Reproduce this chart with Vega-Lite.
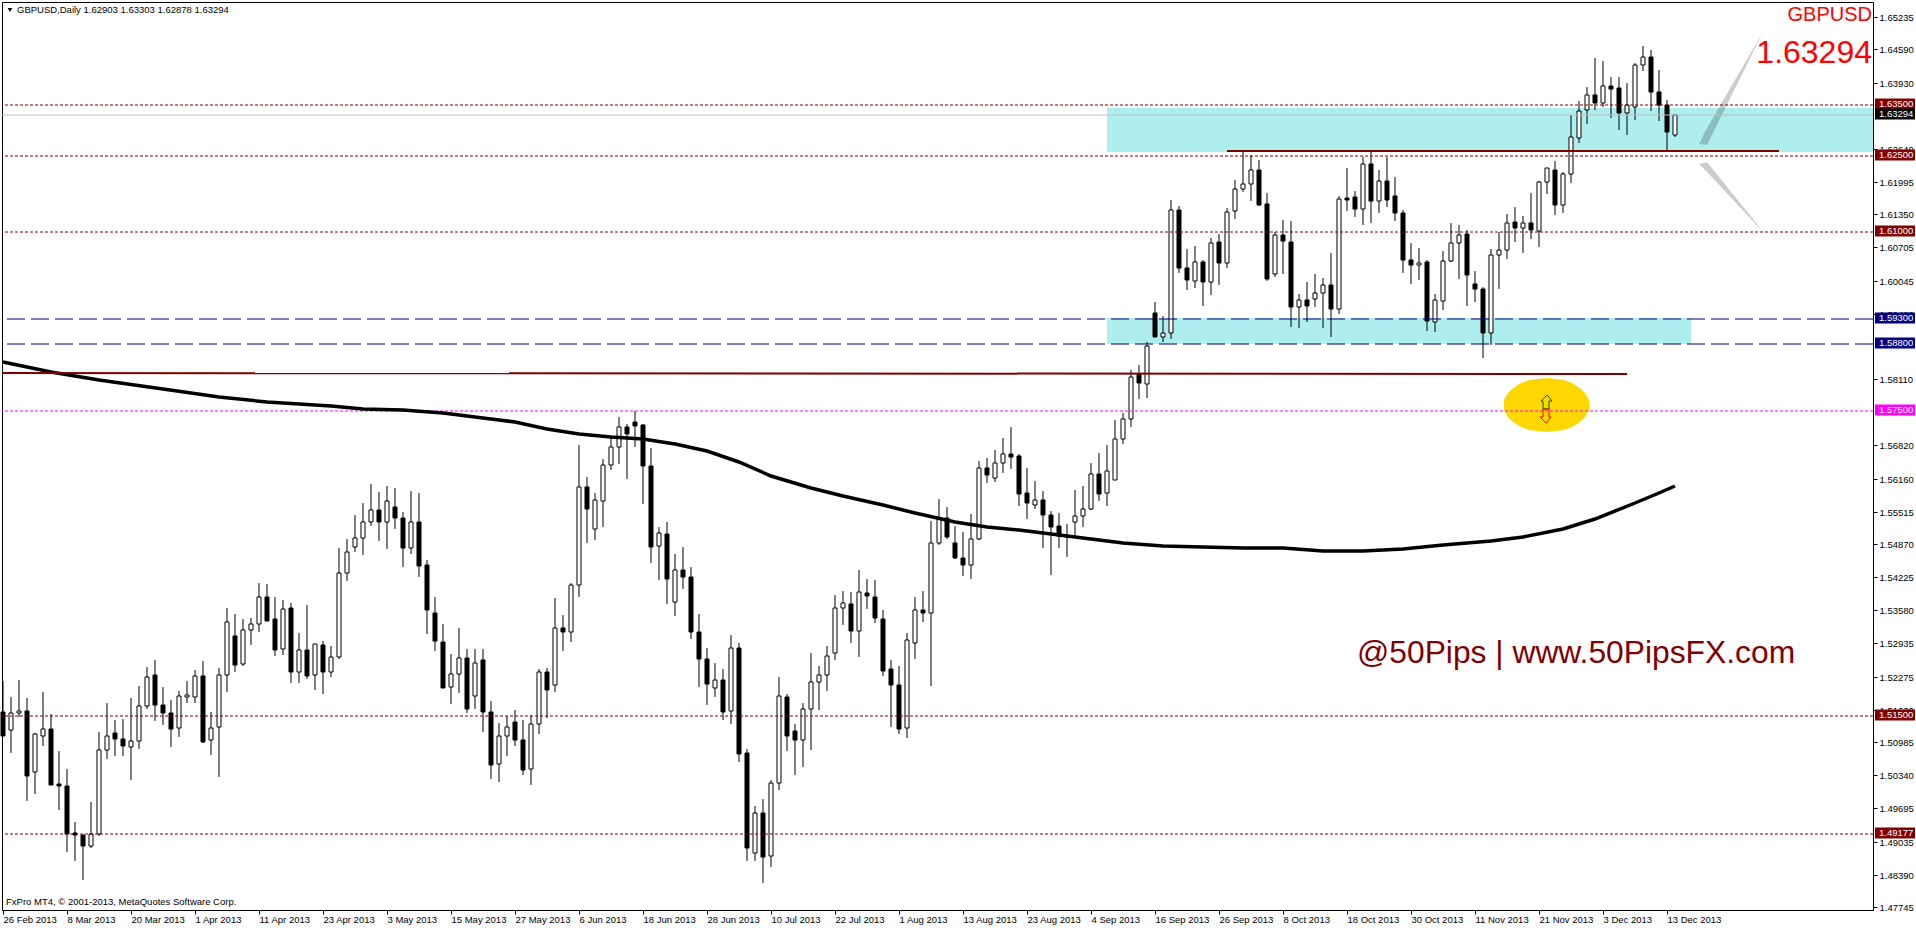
{
"$schema":"https://vega.github.io/schema/vega-lite/v6.json",
"width":1871,"height":908,"autosize":{"type":"none"},
"padding":{"left":2,"top":2,"right":43,"bottom":18},
"background":"white",
"view":{"stroke":"black","strokeWidth":1},
"config":{"axis":{"grid":false}},
"datasets":{
"candles":[
{"bar":0,"o":1.5159,"h":1.5219,"l":1.5111,"c":1.5112},{"bar":1,"o":1.5122,"h":1.5188,"l":1.5078,"c":1.5157},{"bar":2,"o":1.5157,"h":1.5220,"l":1.5148,"c":1.5161},{"bar":3,"o":1.5161,"h":1.5186,"l":1.4984,"c":1.5033},{"bar":4,"o":1.5040,"h":1.5117,"l":1.4998,"c":1.5115},{"bar":5,"o":1.5112,"h":1.5197,"l":1.5092,"c":1.5124},{"bar":6,"o":1.5124,"h":1.5154,"l":1.5014,"c":1.5015},{"bar":7,"o":1.5016,"h":1.5082,"l":1.4965,"c":1.5012},{"bar":8,"o":1.5012,"h":1.5046,"l":1.4884,"c":1.4919},{"bar":9,"o":1.4920,"h":1.4942,"l":1.4865,"c":1.4916},
{"bar":10,"o":1.4917,"h":1.4917,"l":1.4829,"c":1.4896},{"bar":11,"o":1.4896,"h":1.4982,"l":1.4892,"c":1.4918},{"bar":12,"o":1.4918,"h":1.5119,"l":1.4914,"c":1.5083},{"bar":13,"o":1.5083,"h":1.5175,"l":1.5066,"c":1.5112},{"bar":14,"o":1.5116,"h":1.5142,"l":1.5071,"c":1.5106},{"bar":15,"o":1.5106,"h":1.5144,"l":1.5072,"c":1.5092},{"bar":16,"o":1.5090,"h":1.5185,"l":1.5025,"c":1.5101},{"bar":17,"o":1.5101,"h":1.5209,"l":1.5086,"c":1.5169},{"bar":18,"o":1.5169,"h":1.5246,"l":1.5165,"c":1.5226},{"bar":19,"o":1.5230,"h":1.5260,"l":1.5141,"c":1.5171},
{"bar":20,"o":1.5171,"h":1.5207,"l":1.5133,"c":1.5157},{"bar":21,"o":1.5157,"h":1.5182,"l":1.5090,"c":1.5125},{"bar":22,"o":1.5126,"h":1.5199,"l":1.5110,"c":1.5189},{"bar":23,"o":1.5187,"h":1.5219,"l":1.5176,"c":1.5191},{"bar":24,"o":1.5187,"h":1.5241,"l":1.5176,"c":1.5228},{"bar":25,"o":1.5228,"h":1.5258,"l":1.5098,"c":1.5100},{"bar":26,"o":1.5103,"h":1.5158,"l":1.5074,"c":1.5126},{"bar":27,"o":1.5128,"h":1.5244,"l":1.5031,"c":1.5230},{"bar":28,"o":1.5230,"h":1.5362,"l":1.5198,"c":1.5334},{"bar":29,"o":1.5307,"h":1.5350,"l":1.5237,"c":1.5251},
{"bar":30,"o":1.5253,"h":1.5341,"l":1.5249,"c":1.5320},{"bar":31,"o":1.5320,"h":1.5342,"l":1.5290,"c":1.5330},{"bar":32,"o":1.5330,"h":1.5411,"l":1.5316,"c":1.5383},{"bar":33,"o":1.5383,"h":1.5409,"l":1.5337,"c":1.5337},{"bar":34,"o":1.5340,"h":1.5384,"l":1.5269,"c":1.5280},{"bar":35,"o":1.5281,"h":1.5378,"l":1.5271,"c":1.5360},{"bar":36,"o":1.5362,"h":1.5372,"l":1.5216,"c":1.5237},{"bar":37,"o":1.5237,"h":1.5313,"l":1.5216,"c":1.5279},{"bar":38,"o":1.5279,"h":1.5368,"l":1.5222,"c":1.5229},{"bar":39,"o":1.5230,"h":1.5291,"l":1.5202,"c":1.5291},
{"bar":40,"o":1.5289,"h":1.5297,"l":1.5194,"c":1.5237},{"bar":41,"o":1.5236,"h":1.5288,"l":1.5226,"c":1.5267},{"bar":42,"o":1.5267,"h":1.5480,"l":1.5263,"c":1.5432},{"bar":43,"o":1.5432,"h":1.5497,"l":1.5416,"c":1.5472},{"bar":44,"o":1.5483,"h":1.5545,"l":1.5473,"c":1.5499},{"bar":45,"o":1.5499,"h":1.5569,"l":1.5466,"c":1.5531},{"bar":46,"o":1.5531,"h":1.5606,"l":1.5524,"c":1.5554},{"bar":47,"o":1.5554,"h":1.5590,"l":1.5494,"c":1.5532},{"bar":48,"o":1.5532,"h":1.5602,"l":1.5478,"c":1.5572},{"bar":49,"o":1.5560,"h":1.5598,"l":1.5518,"c":1.5540},
{"bar":50,"o":1.5540,"h":1.5551,"l":1.5443,"c":1.5480},{"bar":51,"o":1.5481,"h":1.5592,"l":1.5468,"c":1.5532},{"bar":52,"o":1.5532,"h":1.5588,"l":1.5424,"c":1.5445},{"bar":53,"o":1.5447,"h":1.5456,"l":1.5312,"c":1.5359},{"bar":54,"o":1.5352,"h":1.5384,"l":1.5277,"c":1.5298},{"bar":55,"o":1.5295,"h":1.5331,"l":1.5206,"c":1.5206},{"bar":56,"o":1.5207,"h":1.5272,"l":1.5173,"c":1.5232},{"bar":57,"o":1.5232,"h":1.5323,"l":1.5196,"c":1.5265},{"bar":58,"o":1.5265,"h":1.5282,"l":1.5157,"c":1.5165},{"bar":59,"o":1.5189,"h":1.5282,"l":1.5165,"c":1.5254},
{"bar":60,"o":1.5260,"h":1.5282,"l":1.5119,"c":1.5158},{"bar":61,"o":1.5158,"h":1.5180,"l":1.5026,"c":1.5055},{"bar":62,"o":1.5056,"h":1.5136,"l":1.5020,"c":1.5112},{"bar":63,"o":1.5112,"h":1.5150,"l":1.5071,"c":1.5129},{"bar":64,"o":1.5139,"h":1.5163,"l":1.5092,"c":1.5103},{"bar":65,"o":1.5104,"h":1.5142,"l":1.5034,"c":1.5045},{"bar":66,"o":1.5046,"h":1.5152,"l":1.5014,"c":1.5135},{"bar":67,"o":1.5135,"h":1.5243,"l":1.5115,"c":1.5236},{"bar":68,"o":1.5236,"h":1.5244,"l":1.5146,"c":1.5201},{"bar":69,"o":1.5211,"h":1.5381,"l":1.5197,"c":1.5324},
{"bar":70,"o":1.5324,"h":1.5348,"l":1.5278,"c":1.5315},{"bar":71,"o":1.5315,"h":1.5412,"l":1.5296,"c":1.5407},{"bar":72,"o":1.5407,"h":1.5683,"l":1.5383,"c":1.5600},{"bar":73,"o":1.5600,"h":1.5619,"l":1.5489,"c":1.5556},{"bar":74,"o":1.5518,"h":1.5588,"l":1.5496,"c":1.5574},{"bar":75,"o":1.5572,"h":1.5654,"l":1.5522,"c":1.5644},{"bar":76,"o":1.5644,"h":1.5696,"l":1.5633,"c":1.5679},{"bar":77,"o":1.5679,"h":1.5738,"l":1.5645,"c":1.5718},{"bar":78,"o":1.5718,"h":1.5724,"l":1.5615,"c":1.5704},{"bar":79,"o":1.5728,"h":1.5750,"l":1.5679,"c":1.5719},
{"bar":80,"o":1.5722,"h":1.5724,"l":1.5566,"c":1.5642},{"bar":81,"o":1.5641,"h":1.5677,"l":1.5451,"c":1.5483},{"bar":82,"o":1.5485,"h":1.5521,"l":1.5417,"c":1.5509},{"bar":83,"o":1.5508,"h":1.5532,"l":1.5371,"c":1.5420},{"bar":84,"o":1.5375,"h":1.5468,"l":1.5347,"c":1.5436},{"bar":85,"o":1.5436,"h":1.5482,"l":1.5400,"c":1.5424},{"bar":86,"o":1.5424,"h":1.5443,"l":1.5301,"c":1.5315},{"bar":87,"o":1.5316,"h":1.5350,"l":1.5207,"c":1.5263},{"bar":88,"o":1.5263,"h":1.5284,"l":1.5171,"c":1.5214},{"bar":89,"o":1.5205,"h":1.5254,"l":1.5188,"c":1.5221},
{"bar":90,"o":1.5221,"h":1.5243,"l":1.5142,"c":1.5159},{"bar":91,"o":1.5160,"h":1.5309,"l":1.5134,"c":1.5283},{"bar":92,"o":1.5283,"h":1.5293,"l":1.5060,"c":1.5076},{"bar":93,"o":1.5077,"h":1.5085,"l":1.4866,"c":1.4892},{"bar":94,"o":1.4881,"h":1.4974,"l":1.4866,"c":1.4959},{"bar":95,"o":1.4959,"h":1.4988,"l":1.4822,"c":1.4874},{"bar":96,"o":1.4875,"h":1.5025,"l":1.4853,"c":1.5019},{"bar":97,"o":1.5019,"h":1.5227,"l":1.5005,"c":1.5190},{"bar":98,"o":1.5188,"h":1.5194,"l":1.5082,"c":1.5111},{"bar":99,"o":1.5120,"h":1.5134,"l":1.5034,"c":1.5103},
{"bar":100,"o":1.5104,"h":1.5175,"l":1.5051,"c":1.5164},{"bar":101,"o":1.5164,"h":1.5274,"l":1.5084,"c":1.5217},{"bar":102,"o":1.5217,"h":1.5248,"l":1.5163,"c":1.5230},{"bar":103,"o":1.5230,"h":1.5287,"l":1.5200,"c":1.5269},{"bar":104,"o":1.5273,"h":1.5388,"l":1.5261,"c":1.5362},{"bar":105,"o":1.5362,"h":1.5396,"l":1.5328,"c":1.5372},{"bar":106,"o":1.5370,"h":1.5394,"l":1.5294,"c":1.5317},{"bar":107,"o":1.5318,"h":1.5437,"l":1.5267,"c":1.5394},{"bar":108,"o":1.5392,"h":1.5419,"l":1.5360,"c":1.5385},{"bar":109,"o":1.5384,"h":1.5418,"l":1.5333,"c":1.5343},
{"bar":110,"o":1.5341,"h":1.5359,"l":1.5228,"c":1.5239},{"bar":111,"o":1.5242,"h":1.5260,"l":1.5129,"c":1.5211},{"bar":112,"o":1.5211,"h":1.5248,"l":1.5115,"c":1.5125},{"bar":113,"o":1.5126,"h":1.5313,"l":1.5107,"c":1.5300},{"bar":114,"o":1.5294,"h":1.5383,"l":1.5263,"c":1.5358},{"bar":115,"o":1.5358,"h":1.5396,"l":1.5334,"c":1.5352},{"bar":116,"o":1.5353,"h":1.5534,"l":1.5209,"c":1.5490},{"bar":117,"o":1.5490,"h":1.5577,"l":1.5486,"c":1.5539},{"bar":118,"o":1.5539,"h":1.5561,"l":1.5498,"c":1.5501},{"bar":119,"o":1.5489,"h":1.5523,"l":1.5459,"c":1.5460},
{"bar":120,"o":1.5460,"h":1.5512,"l":1.5426,"c":1.5446},{"bar":121,"o":1.5446,"h":1.5547,"l":1.5420,"c":1.5498},{"bar":122,"o":1.5498,"h":1.5651,"l":1.5495,"c":1.5637},{"bar":123,"o":1.5637,"h":1.5657,"l":1.5607,"c":1.5623},{"bar":124,"o":1.5617,"h":1.5673,"l":1.5609,"c":1.5647},{"bar":125,"o":1.5647,"h":1.5696,"l":1.5628,"c":1.5664},{"bar":126,"o":1.5664,"h":1.5718,"l":1.5636,"c":1.5658},{"bar":127,"o":1.5661,"h":1.5664,"l":1.5562,"c":1.5587},{"bar":128,"o":1.5588,"h":1.5637,"l":1.5538,"c":1.5568},{"bar":129,"o":1.5564,"h":1.5612,"l":1.5556,"c":1.5574},
{"bar":130,"o":1.5574,"h":1.5592,"l":1.5481,"c":1.5544},{"bar":131,"o":1.5545,"h":1.5553,"l":1.5428,"c":1.5522},{"bar":132,"o":1.5523,"h":1.5549,"l":1.5481,"c":1.5503},{"bar":133,"o":1.5502,"h":1.5528,"l":1.5462,"c":1.5506},{"bar":134,"o":1.5531,"h":1.5594,"l":1.5503,"c":1.5543},{"bar":135,"o":1.5543,"h":1.5602,"l":1.5521,"c":1.5556},{"bar":136,"o":1.5556,"h":1.5647,"l":1.5554,"c":1.5625},{"bar":137,"o":1.5625,"h":1.5667,"l":1.5572,"c":1.5587},{"bar":138,"o":1.5588,"h":1.5683,"l":1.5562,"c":1.5631},{"bar":139,"o":1.5613,"h":1.5732,"l":1.5613,"c":1.5694},
{"bar":140,"o":1.5694,"h":1.5745,"l":1.5685,"c":1.5733},{"bar":141,"o":1.5733,"h":1.5830,"l":1.5717,"c":1.5816},{"bar":142,"o":1.5822,"h":1.5839,"l":1.5773,"c":1.5805},{"bar":143,"o":1.5803,"h":1.5885,"l":1.5775,"c":1.5877},{"bar":144,"o":1.5941,"h":1.5964,"l":1.5894,"c":1.5894},{"bar":145,"o":1.5894,"h":1.5936,"l":1.5884,"c":1.5902},{"bar":146,"o":1.5902,"h":1.6164,"l":1.5891,"c":1.6144},{"bar":147,"o":1.6144,"h":1.6152,"l":1.6021,"c":1.6029},{"bar":148,"o":1.6030,"h":1.6068,"l":1.5986,"c":1.6006},{"bar":149,"o":1.6004,"h":1.6074,"l":1.5991,"c":1.6041},
{"bar":150,"o":1.6041,"h":1.6046,"l":1.5955,"c":1.6002},{"bar":151,"o":1.6002,"h":1.6089,"l":1.5977,"c":1.6079},{"bar":152,"o":1.6081,"h":1.6097,"l":1.5997,"c":1.6039},{"bar":153,"o":1.6039,"h":1.6148,"l":1.6029,"c":1.6140},{"bar":154,"o":1.6141,"h":1.6203,"l":1.6127,"c":1.6185},{"bar":155,"o":1.6184,"h":1.6259,"l":1.6180,"c":1.6195},{"bar":156,"o":1.6195,"h":1.6251,"l":1.6162,"c":1.6222},{"bar":157,"o":1.6222,"h":1.6242,"l":1.6152,"c":1.6154},{"bar":158,"o":1.6155,"h":1.6178,"l":1.6004,"c":1.6009},{"bar":159,"o":1.6019,"h":1.6100,"l":1.6013,"c":1.6094},
{"bar":160,"o":1.6094,"h":1.6125,"l":1.6019,"c":1.6082},{"bar":161,"o":1.6081,"h":1.6123,"l":1.5915,"c":1.5953},{"bar":162,"o":1.5953,"h":1.5979,"l":1.5913,"c":1.5967},{"bar":163,"o":1.5967,"h":1.6003,"l":1.5923,"c":1.5955},{"bar":164,"o":1.5969,"h":1.6019,"l":1.5954,"c":1.5981},{"bar":165,"o":1.5980,"h":1.6011,"l":1.5913,"c":1.5996},{"bar":166,"o":1.5996,"h":1.6059,"l":1.5894,"c":1.5949},{"bar":167,"o":1.5949,"h":1.6172,"l":1.5939,"c":1.6165},{"bar":168,"o":1.6167,"h":1.6227,"l":1.6141,"c":1.6164},{"bar":169,"o":1.6169,"h":1.6181,"l":1.6130,"c":1.6145},
{"bar":170,"o":1.6145,"h":1.6248,"l":1.6115,"c":1.6234},{"bar":171,"o":1.6234,"h":1.6259,"l":1.6119,"c":1.6162},{"bar":172,"o":1.6162,"h":1.6223,"l":1.6137,"c":1.6200},{"bar":173,"o":1.6200,"h":1.6248,"l":1.6149,"c":1.6164},{"bar":174,"o":1.6171,"h":1.6209,"l":1.6123,"c":1.6137},{"bar":175,"o":1.6138,"h":1.6144,"l":1.6021,"c":1.6045},{"bar":176,"o":1.6045,"h":1.6079,"l":1.5998,"c":1.6035},{"bar":177,"o":1.6036,"h":1.6069,"l":1.6006,"c":1.6040},{"bar":178,"o":1.6041,"h":1.6046,"l":1.5907,"c":1.5925},{"bar":179,"o":1.5924,"h":1.5979,"l":1.5904,"c":1.5967},
{"bar":180,"o":1.5966,"h":1.6064,"l":1.5947,"c":1.6043},{"bar":181,"o":1.6043,"h":1.6119,"l":1.6041,"c":1.6079},{"bar":182,"o":1.6078,"h":1.6114,"l":1.6009,"c":1.6094},{"bar":183,"o":1.6096,"h":1.6104,"l":1.5956,"c":1.6017},{"bar":184,"o":1.5999,"h":1.6023,"l":1.5964,"c":1.5988},{"bar":185,"o":1.5989,"h":1.5993,"l":1.5853,"c":1.5902},{"bar":186,"o":1.5902,"h":1.6068,"l":1.5878,"c":1.6055},{"bar":187,"o":1.6055,"h":1.6100,"l":1.5988,"c":1.6065},{"bar":188,"o":1.6065,"h":1.6136,"l":1.6047,"c":1.6118},{"bar":189,"o":1.6120,"h":1.6150,"l":1.6080,"c":1.6108},
{"bar":190,"o":1.6108,"h":1.6132,"l":1.6059,"c":1.6118},{"bar":191,"o":1.6118,"h":1.6178,"l":1.6086,"c":1.6104},{"bar":192,"o":1.6102,"h":1.6201,"l":1.6072,"c":1.6198},{"bar":193,"o":1.6198,"h":1.6226,"l":1.6176,"c":1.6226},{"bar":194,"o":1.6222,"h":1.6240,"l":1.6133,"c":1.6153},{"bar":195,"o":1.6153,"h":1.6219,"l":1.6137,"c":1.6214},{"bar":196,"o":1.6214,"h":1.6331,"l":1.6196,"c":1.6287},{"bar":197,"o":1.6286,"h":1.6358,"l":1.6276,"c":1.6339},{"bar":198,"o":1.6341,"h":1.6385,"l":1.6313,"c":1.6369},{"bar":199,"o":1.6369,"h":1.6442,"l":1.6341,"c":1.6354},
{"bar":200,"o":1.6354,"h":1.6436,"l":1.6345,"c":1.6388},{"bar":201,"o":1.6388,"h":1.6405,"l":1.6325,"c":1.6382},{"bar":202,"o":1.6383,"h":1.6405,"l":1.6300,"c":1.6335},{"bar":203,"o":1.6335,"h":1.6393,"l":1.6290,"c":1.6349},{"bar":204,"o":1.6345,"h":1.6432,"l":1.6321,"c":1.6428},{"bar":205,"o":1.6428,"h":1.6466,"l":1.6417,"c":1.6445},{"bar":206,"o":1.6445,"h":1.6458,"l":1.6339,"c":1.6375},{"bar":207,"o":1.6375,"h":1.6419,"l":1.6319,"c":1.6349},{"bar":208,"o":1.6350,"h":1.6360,"l":1.6261,"c":1.6296},{"bar":209,"o":1.62903,"h":1.63303,"l":1.62878,"c":1.63294}
],
"ma":[{"bar":0,"price":1.5845},{"bar":6,"price":1.5825},{"bar":12,"price":1.5809},{"bar":20,"price":1.5793},{"bar":27,"price":1.5776},{"bar":33,"price":1.5767},{"bar":41,"price":1.5758},{"bar":45,"price":1.5753},{"bar":50,"price":1.5752},{"bar":55,"price":1.5746},{"bar":62,"price":1.5731},{"bar":64,"price":1.5728},{"bar":68,"price":1.5714},{"bar":72,"price":1.5703},{"bar":76,"price":1.5699},{"bar":80,"price":1.5694},{"bar":84,"price":1.5685},{"bar":88,"price":1.5670},{"bar":92,"price":1.5649},{"bar":96,"price":1.5622},{"bar":101,"price":1.5598},{"bar":105,"price":1.5582},{"bar":110,"price":1.5565},{"bar":114,"price":1.5549},{"bar":119,"price":1.5532},{"bar":123,"price":1.5521},{"bar":127,"price":1.5515},{"bar":132,"price":1.5506},{"bar":136,"price":1.5498},{"bar":140,"price":1.5489},{"bar":145,"price":1.5484},{"bar":150,"price":1.5482},{"bar":155,"price":1.5480},{"bar":160,"price":1.5480},{"bar":165,"price":1.5474},{"bar":170,"price":1.5474},{"bar":175,"price":1.5478},{"bar":180,"price":1.5486},{"bar":186,"price":1.5493},{"bar":190,"price":1.5502},{"bar":195,"price":1.5517},{"bar":199,"price":1.5537},{"bar":204,"price":1.5568},{"bar":207,"price":1.5588},{"bar":209,"price":1.5602}],
"levels":[{"level":1.635,"kind":"resistance","label":"1.63500"},{"level":1.625,"kind":"resistance","label":"1.62500"},{"level":1.61,"kind":"resistance","label":"1.61000"},{"level":1.593,"kind":"zone","label":"1.59300"},{"level":1.588,"kind":"zone","label":"1.58800"},{"level":1.575,"kind":"pivot","label":"1.57500"},{"level":1.515,"kind":"resistance","label":"1.51500"},{"level":1.49177,"kind":"resistance","label":"1.49177"},{"level":1.63294,"kind":"last","label":"1.63294"}],
"ellipse":[{"bar":187.565,"a":1.57609,"b":1.57609},{"bar":187.672,"a":1.57714,"b":1.57504},{"bar":188.1,"a":1.5784,"b":1.57378},{"bar":188.64,"a":1.57927,"b":1.57291},{"bar":189.715,"a":1.58033,"b":1.57185},{"bar":190.79,"a":1.58095,"b":1.57123},{"bar":191.865,"a":1.58128,"b":1.5709},{"bar":192.94,"a":1.58139,"b":1.57079},{"bar":194.015,"a":1.58128,"b":1.5709},{"bar":195.09,"a":1.58095,"b":1.57123},{"bar":196.165,"a":1.58033,"b":1.57185},{"bar":197.24,"a":1.57927,"b":1.57291},{"bar":197.78,"a":1.5784,"b":1.57378},{"bar":198.208,"a":1.57714,"b":1.57504},{"bar":198.315,"a":1.57609,"b":1.57609}],
"arrowUp":[{"k":0,"bar":192.94,"price":1.57805},{"k":1,"bar":192.22,"price":1.57693},{"k":2,"bar":192.56,"price":1.57693},{"k":3,"bar":192.56,"price":1.5753},{"k":4,"bar":193.31,"price":1.5753},{"k":5,"bar":193.31,"price":1.57693},{"k":6,"bar":193.65,"price":1.57693},{"k":7,"bar":192.94,"price":1.57805}],
"arrowDown":[{"k":0,"bar":192.47,"price":1.5753},{"k":1,"bar":193.22,"price":1.5753},{"k":2,"bar":193.22,"price":1.57367},{"k":3,"bar":193.56,"price":1.57367},{"k":4,"bar":192.85,"price":1.57261},{"k":5,"bar":192.1,"price":1.57367},{"k":6,"bar":192.47,"price":1.57367},{"k":7,"bar":192.47,"price":1.5753}]
},
"layer":[
{"data":{"values":[{"bar":138,"bar2":233.75,"top":1.6344,"bottom":1.6258},{"bar":138,"bar2":211,"top":1.5932,"bottom":1.5881}]},
 "mark":{"type":"rect","fill":"#AFEEEE"},
 "encoding":{
  "x":{"field":"bar","type":"quantitative","scale":{"domain":[-0.125,233.75],"nice":false,"zero":false,"round":true,"padding":0},
   "axis":{"title":null,"orient":"bottom","grid":false,"domain":false,"tickCount":60,"values":[0,8,16,24,32,40,48,56,64,72,80,88,96,104,112,120,128,136,144,152,160,168,176,184,192,200,208],
    "labelExpr":"['26 Feb 2013','8 Mar 2013','20 Mar 2013','1 Apr 2013','11 Apr 2013','23 Apr 2013','3 May 2013','15 May 2013','27 May 2013','6 Jun 2013','18 Jun 2013','28 Jun 2013','10 Jul 2013','22 Jul 2013','1 Aug 2013','13 Aug 2013','23 Aug 2013','4 Sep 2013','16 Sep 2013','26 Sep 2013','8 Oct 2013','18 Oct 2013','30 Oct 2013','11 Nov 2013','21 Nov 2013','3 Dec 2013','13 Dec 2013'][datum.value/8]",
    "labelAlign":"left","labelBaseline":"top","labelFont":"Liberation Sans","labelFontSize":9.5,"labelColor":"black","labelPadding":0,"labelOverlap":false,"labelBound":false,"labelFlush":false,"tickColor":"black","tickSize":4}},
  "x2":{"field":"bar2"},
  "y":{"field":"top","type":"quantitative","scale":{"domain":[1.47694,1.65521],"nice":false,"zero":false,"round":true,"padding":0},
   "axis":{"title":null,"orient":"right","grid":false,"domain":false,"tickCount":60,"values":[1.65235,1.6459,1.6393,1.6264,1.61995,1.6135,1.60705,1.60045,1.594,1.5811,1.5682,1.5616,1.55515,1.5487,1.54225,1.5358,1.52935,1.52275,1.5163,1.50985,1.5034,1.49695,1.49035,1.4839,1.47745],
    "format":".5f","labelFont":"Liberation Sans","labelFontSize":9.5,"labelColor":"black","labelPadding":2,"labelOverlap":false,"labelBound":false,"labelFlush":false,"tickColor":"black","tickSize":4}},
  "y2":{"field":"bottom"}}},
{"data":{"name":"candles"},"mark":{"type":"rule","color":"black","strokeWidth":1},
 "encoding":{"x":{"field":"bar","type":"quantitative"},"y":{"field":"h","type":"quantitative"},"y2":{"field":"l"}}},
{"data":{"name":"candles"},"mark":{"type":"bar","orient":"vertical","size":4,"stroke":"black","strokeWidth":1},
 "encoding":{"x":{"field":"bar","type":"quantitative"},"y":{"field":"o","type":"quantitative"},"y2":{"field":"c"},
  "fill":{"condition":{"test":"datum.c>datum.o","value":"white"},"value":"black"}}},
{"data":{"name":"ellipse"},"mark":{"type":"area","fill":"#FFD700"},
 "encoding":{"x":{"field":"bar","type":"quantitative"},"y":{"field":"a","type":"quantitative"},"y2":{"field":"b"}}},
{"data":{"values":[{"w":"up","bar":211.94,"a":1.6273,"b":1.6273},{"w":"up","bar":213.06,"a":1.6304,"b":1.6271},{"w":"up","bar":219.94,"a":1.6493,"b":1.6493},{"w":"down","bar":211.94,"a":1.6234,"b":1.6234},{"w":"down","bar":212.94,"a":1.6238,"b":1.6218},{"w":"down","bar":220.31,"a":1.6097,"b":1.6097}]},
 "mark":{"type":"area","fill":"black","opacity":0.2},
 "encoding":{"x":{"field":"bar","type":"quantitative"},"y":{"field":"a","type":"quantitative"},"y2":{"field":"b"},"detail":{"field":"w"}}},
{"data":{"name":"levels"},"mark":{"type":"rule","strokeWidth":1},
 "encoding":{"y":{"field":"level","type":"quantitative"},
  "color":{"field":"kind","type":"nominal","legend":null,"scale":{"domain":["resistance","zone","pivot","last"],"range":["#800000","#000080","#FF00FF","#C0C0C0"]}},
  "strokeDash":{"field":"kind","type":"nominal","legend":null,"scale":{"domain":["resistance","zone","pivot","last"],"range":[[3,2],[18,6],[3,2],[1,0]]}}}},
{"data":{"name":"ma"},"mark":{"type":"line","color":"black","strokeWidth":3.5,"interpolate":"linear"},
 "encoding":{"x":{"field":"bar","type":"quantitative"},"y":{"field":"price","type":"quantitative"}}},
{"data":{"values":[{"t":"upper","bar":153,"price":1.62595},{"t":"upper","bar":222,"price":1.62595},{"t":"lower","bar":-0.125,"price":1.5824},{"t":"lower","bar":203,"price":1.5822}]},
 "mark":{"type":"line","color":"#800000","strokeWidth":2},
 "encoding":{"x":{"field":"bar","type":"quantitative"},"y":{"field":"price","type":"quantitative"},"detail":{"field":"t"}}},
{"data":{"name":"arrowUp"},"mark":{"type":"line","strokeWidth":1,"color":"#006400"},
 "encoding":{"x":{"field":"bar","type":"quantitative"},"y":{"field":"price","type":"quantitative"},"order":{"field":"k","type":"quantitative"}}},
{"data":{"name":"arrowDown"},"mark":{"type":"line","strokeWidth":1,"color":"#FF0000"},
 "encoding":{"x":{"field":"bar","type":"quantitative"},"y":{"field":"price","type":"quantitative"},"order":{"field":"k","type":"quantitative"}}},
{"data":{"name":"levels"},"transform":[{"filter":"datum.kind==='resistance'"}],"mark":{"type":"rule","strokeWidth":11,"yOffset":-1,"color":"#800000"},
 "encoding":{"x":{"datum":234.06,"type":"quantitative"},"x2":{"datum":238.94},"y":{"field":"level","type":"quantitative"}}},
{"data":{"name":"levels"},"transform":[{"filter":"datum.kind==='zone'"}],"mark":{"type":"rule","strokeWidth":11,"yOffset":-1,"color":"#000080"},
 "encoding":{"x":{"datum":234.06,"type":"quantitative"},"x2":{"datum":238.94},"y":{"field":"level","type":"quantitative"}}},
{"data":{"name":"levels"},"transform":[{"filter":"datum.kind==='pivot'"}],"mark":{"type":"rule","strokeWidth":11,"yOffset":-1,"color":"#FF00FF"},
 "encoding":{"x":{"datum":234.06,"type":"quantitative"},"x2":{"datum":238.94},"y":{"field":"level","type":"quantitative"}}},
{"data":{"name":"levels"},"transform":[{"filter":"datum.kind==='last'"}],"mark":{"type":"rule","strokeWidth":11,"yOffset":-1,"color":"#000000"},
 "encoding":{"x":{"datum":234.06,"type":"quantitative"},"x2":{"datum":238.94},"y":{"field":"level","type":"quantitative"}}},
{"data":{"name":"levels"},"mark":{"type":"text","align":"left","baseline":"middle","font":"Liberation Sans","fontSize":9.5,"color":"white","yOffset":-1},
 "encoding":{"x":{"datum":234.44,"type":"quantitative"},"y":{"field":"level","type":"quantitative"},"text":{"field":"label"}}},
{"data":{"values":[{"bar":0.875,"price":1.6536}]},"mark":{"type":"point","shape":"triangle-down","filled":true,"color":"black","size":22,"opacity":1},
 "encoding":{"x":{"field":"bar","type":"quantitative"},"y":{"field":"price","type":"quantitative"}}},
{"data":{"values":[{"bar":1.81,"price":1.6536,"note":"GBPUSD,Daily  1.62903 1.63303 1.62878 1.63294"},{"bar":0.375,"price":1.47851,"note":"FxPro MT4, © 2001-2013, MetaQuotes Software Corp."}]},
 "mark":{"type":"text","align":"left","baseline":"middle","font":"Liberation Sans","fontSize":9.5,"color":"black"},
 "encoding":{"x":{"field":"bar","type":"quantitative"},"y":{"field":"price","type":"quantitative"},"text":{"field":"note"}}},
{"data":{"values":[{"bar":233.65,"price":1.6527,"note":"GBPUSD"}]},
 "mark":{"type":"text","align":"right","baseline":"middle","font":"Liberation Sans","fontSize":20,"color":"#FF0000"},
 "encoding":{"x":{"field":"bar","type":"quantitative"},"y":{"field":"price","type":"quantitative"},"text":{"field":"note"}}},
{"data":{"values":[{"bar":233.65,"price":1.6452,"note":"1.63294"}]},
 "mark":{"type":"text","align":"right","baseline":"middle","font":"Liberation Sans","fontSize":32,"color":"#FF0000"},
 "encoding":{"x":{"field":"bar","type":"quantitative"},"y":{"field":"price","type":"quantitative"},"text":{"field":"note"}}},
{"data":{"values":[{"bar":169.2,"price":1.52747,"note":"@50Pips | www.50PipsFX.com"}]},
 "mark":{"type":"text","align":"left","baseline":"middle","font":"Liberation Sans","fontSize":31.8,"color":"#800000"},
 "encoding":{"x":{"field":"bar","type":"quantitative"},"y":{"field":"price","type":"quantitative"},"text":{"field":"note"}}}
]
}
